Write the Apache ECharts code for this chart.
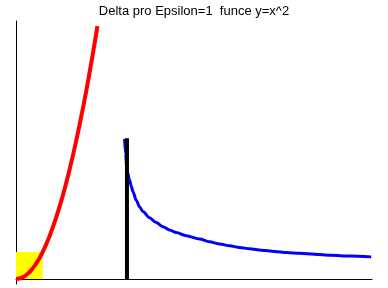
<!DOCTYPE html>
<html>
<head>
<meta charset="utf-8">
<script src="https://cdn.jsdelivr.net/npm/echarts@6/dist/echarts.min.js"></script>
<style>
html,body{margin:0;padding:0;background:#fff;}
#c{width:388px;height:288px;}
</style>
</head>
<body>
<div id="c"></div>
<script>
// Values
var titleText = 'Delta pro Epsilon=1  funce y=x^2';

// red curve y = x^2 (read points)
var redX = [0, 0.25, 0.5, 0.75, 1, 1.25, 1.5, 1.75, 2, 2.25, 2.5, 2.75, 3, 3.06];
var redY = [0, 0.06, 0.25, 0.56, 1, 1.56, 2.25, 3.06, 4, 5.06, 6.25, 7.56, 9, 9.37];

// yellow epsilon box (x0, y0, x1, y1)
var boxX = [0, 1];
var boxY = [0, 1];

// black vertical line
var blackX = [4.17, 4.17];
var blackY = [0, 5.22];

// blue curve
var blueX = [4.08, 4.12, 4.17, 4.27, 4.33, 4.39, 4.52, 4.64, 4.77, 5.02, 5.27, 5.52, 5.77, 6.02, 6.40, 6.90, 7.27, 7.65, 8.03, 8.40, 8.78, 9.23, 9.72, 10.17, 10.66, 11.22, 11.85, 12.55, 13.35];
var blueY = [5.19, 4.63, 4.04, 3.67, 3.45, 3.25, 2.92, 2.68, 2.50, 2.27, 2.09, 1.94, 1.82, 1.72, 1.60, 1.48, 1.38, 1.30, 1.23, 1.17, 1.12, 1.07, 1.02, 0.98, 0.95, 0.92, 0.88, 0.85, 0.82];

var xRange = [0, 13.38];
var yRange = [-0.185, 9.56];

function zip(a, b) { return a.map(function (v, i) { return [v, b[i]]; }); }

var chart = echarts.init(document.getElementById('c'), null, {renderer: 'canvas'});
chart.setOption({
  animation: false,
  backgroundColor: '#ffffff',
  title: {
    text: titleText,
    left: 'center',
    top: 0,
    textStyle: {fontFamily: 'Liberation Sans, Arial, sans-serif', fontSize: 13, fontWeight: 'normal', color: '#000'}
  },
  grid: {left: 16, right: 16, top: 21, bottom: 4},
  xAxis: {
    type: 'value', min: xRange[0], max: xRange[1],
    axisLine: {onZero: true, lineStyle: {color: '#000', width: 1}},
    axisTick: {show: false}, axisLabel: {show: false}, splitLine: {show: false}
  },
  yAxis: {
    type: 'value', min: yRange[0], max: yRange[1],
    axisLine: {show: true, onZero: false, lineStyle: {color: '#000', width: 1}},
    axisTick: {show: false}, axisLabel: {show: false}, splitLine: {show: false}
  },
  series: [
    {
      type: 'line', data: [], z: 1, silent: true,
      markArea: {
        silent: true,
        itemStyle: {color: '#ffff00', opacity: 1},
        data: [[{coord: [boxX[0], boxY[0]]}, {coord: [boxX[1], boxY[1]]}]]
      }
    },
    {
      type: 'line', data: zip(redX, redY), smooth: true, symbol: 'none', z: 3,
      lineStyle: {color: '#ff0000', width: 4}
    },
    {
      type: 'line', data: zip(blueX, blueY), smooth: 0.3, smoothMonotone: 'x', symbol: 'none', z: 3,
      lineStyle: {color: '#0000ff', width: 3}
    },
    {
      type: 'line', data: zip(blackX, blackY), symbol: 'none', z: 4,
      lineStyle: {color: '#000000', width: 4, cap: 'butt'}
    }
  ]
});
</script>
</body>
</html>
